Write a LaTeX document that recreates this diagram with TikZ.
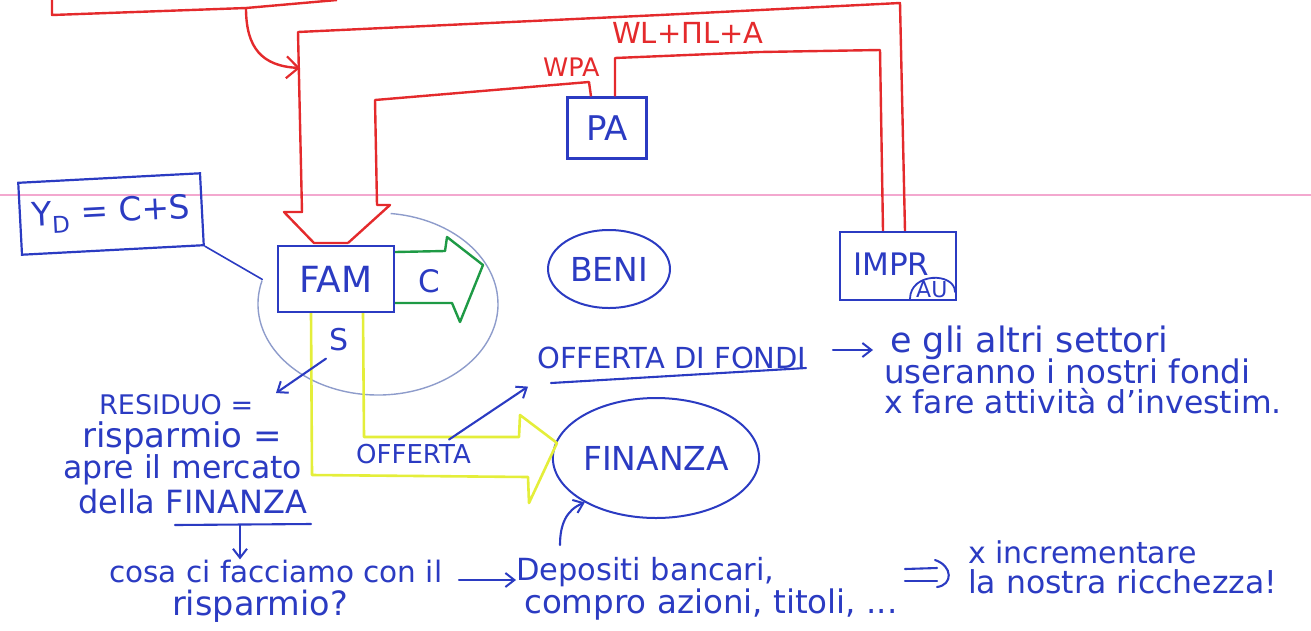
\documentclass[tikz,border=0pt]{standalone}
\usepackage{fontspec}
\setmainfont{DejaVu Sans}
\usetikzlibrary{arrows.meta,shapes.geometric,calc}
\definecolor{pen}{HTML}{2B3BC2}
\definecolor{marker}{HTML}{E42A2C}
\definecolor{grn}{HTML}{1E9A45}
\definecolor{yel}{HTML}{E4EE3A}
\definecolor{faint}{HTML}{8E9CCB}
\definecolor{ruling}{HTML}{F3A8CF}
\begin{document}
\begin{tikzpicture}[x=1pt,y=-1pt,
  hw/.style={text=pen, inner sep=0pt, anchor=base west, font=\fontsize{#1}{#1}\selectfont},
  box/.style={draw=pen, line width=2.2pt, inner sep=0pt, text=pen},
  ring/.style={ellipse, draw=pen, line width=2pt, inner sep=0pt, text=pen},
  redline/.style={draw=marker, line width=2.4pt, line join=round},
  penline/.style={draw=pen, line width=2.1pt, line cap=round},
  barb/.style={-{Straight Barb[length=9pt,width=14pt,line width=2pt]}}]
\useasboundingbox (0,0) rectangle (1311,630);

% ruled line of the notebook page
\draw[ruling, line width=1.8pt] (0,195) -- (1311,195);

% sectors
\node[box, minimum width=182pt, minimum height=72pt, rotate=3,
      font=\fontsize{33}{33}\selectfont] (yd) at (111,214) {Y\textsubscript{D} = C+S};
\node[box, minimum width=116pt, minimum height=66pt,
      font=\fontsize{36}{36}\selectfont] (fam) at (336,279) {FAM};
\node[box, minimum width=79pt, minimum height=61pt,
      font=\fontsize{34}{34}\selectfont] (pa) at (607,128) {PA};
\node[box, minimum width=116pt, minimum height=68pt] (impr) at (898,266) {};
\node[hw=31] (imprtxt) at (853,275) {IMPR};
\node[hw=22] (au) at (916,297) {AU};
\draw[penline, line width=1.8pt] (910,299) .. controls (910,272) and (955,272) .. (955,292);

% markets
\node[ellipse, minimum width=240pt, minimum height=182pt, inner sep=0pt] (circ) at (378,304) {};
\draw[faint, line width=1.4pt] (circ.center) ++(195:120 and 91)
  arc[start angle=195, end angle=-84, x radius=120, y radius=91];
\node[ring, minimum width=122pt, minimum height=78pt,
      font=\fontsize{33}{33}\selectfont] (beni) at (609,269) {BENI};
\node[ring, minimum width=197pt, minimum height=120pt,
      font=\fontsize{33}{33}\selectfont] (fin) at (656,458) {FINANZA};

% income flows (red)
\coordinate (topin) at (52,0);
\coordinate (topout) at (337,0);
\draw[redline] (topin) -- (52,15) -- (246,8) -- (topout);
\draw[redline, -{Straight Barb[length=12pt,width=22pt,line width=2.2pt]}]
  (246,8) .. controls (246,48) and (262,66) .. (300,68);
% outer loop IMPR -> FAM (left side of the hollow arrow)
\draw[redline] (impr.north -| 905,0) -- (900,3) -- (660,15) -- (298,32) -- (302,212)
  -- (284,212) -- (314,243) -- (348,243);
% PA -> FAM (right side of the hollow arrow)
\draw[redline] (pa.north -| 591,0) -- (589,82) -- (375,100) -- (377,205) -- (390,205) -- (348,243);
% PA -> IMPR
\draw[redline] (pa.north -| 615,0) -- (615,58) -- (760,52) -- (880,50) -- (impr.north -| 883,0);
\node[text=marker, inner sep=0pt, anchor=base west, font=\fontsize{25.5}{25.5}\selectfont]
  (wpa) at (543,76) {WPA};
\node[text=marker, inner sep=0pt, anchor=base west, font=\fontsize{29}{29}\selectfont]
  (wl) at (612,43) {WL+ΠL+A};

% consumption (green hollow arrow)
\draw[grn, line width=2.4pt, line join=round] (fam.east |- 0,252) -- (445,251) -- (447,237)
  -- (483,265) -- (460,322) -- (452,303) -- (fam.east |- 0,303);
\node[text=pen, inner sep=0pt, anchor=base west, font=\fontsize{31}{31}\selectfont]
  (cons) at (418,292) {C};

% saving (yellow hollow arrow)
\draw[yel, line width=2.6pt, line join=round] (fam.south -| 311,0) -- (312,475) -- (528,477)
  -- (529,503) -- (557,443) -- (520,415) -- (519,437) -- (364,437) -- (fam.south -| 363,0);
\node[hw=30] (sav) at (329,350) {S};
\node[hw=26] (offerta) at (356,463) {OFFERTA};

% Y_D is spent on the household circle
\draw[penline, line width=1.6pt] (yd.south east) -- (circ.168);

% supply of funds
\node[hw=29] (fondi) at (537,368) {OFFERTA DI FONDI};
\draw[penline] (551,383) -- (806,368);
\draw[penline, barb] ($(offerta.north east)+(-22,-4)$) -- ($(fondi.south west)+(-9,18)$);
\node[hw=35] (alt1) at (890,352) {e gli altri settori};
\node[hw=32.5] (alt2) at (884,383) {useranno i nostri fondi};
\node[hw=31.5] (alt3) at (884,413) {x fare attività d'investim.};
\coordinate (fondiout) at (833,350);
\coordinate (fondiin) at (873,350);
\draw[penline, barb] (fondiout) -- (fondiin);

% left note
\draw[penline, barb] ($(sav.south west)+(-3,8)$) -- (276,393);
\node[hw=27] (res1) at (99,414) {RESIDUO =};
\node[hw=34] (res2) at (82,447) {risparmio =};
\node[hw=31.5] (res3) at (63,478) {apre il mercato};
\node[hw=32] (res4) at (78,513) {della FINANZA};
\draw[penline] (175,525) -- (311,524);
\node[hw=29.5] (q1) at (109,582) {cosa ci facciamo con il};
\node[hw=33.5] (q2) at (172,615) {risparmio?};
\draw[penline, barb] (240,525) -- (q1.north -| 240,0);

% answers
\node[hw=30.5] (dep1) at (516,580) {Depositi bancari,};
\node[hw=32.5] (dep2) at (524,613) {compro azioni, titoli, ...};
\draw[penline, barb] (459,580) -- (dep1.west |- 0,580);
\draw[penline, barb] (560,545) .. controls (560,525) and (566,510) .. (fin.212);
% "therefore" sign: two bars closed by a bracket
\coordinate (impl) at (905,575);
\draw[penline] (impl) ++(0,-6) -- ++(32,-1);
\draw[penline] (impl) ++(0,6) -- ++(32,0);
\draw[penline] (impl) ++(30,-15) .. controls ++(18,6) and ++(16,-2) .. ++(2,27);
\node[hw=30] (ric1) at (968,563) {x incrementare};
\node[hw=31.5] (ric2) at (968,593) {la nostra ricchezza!};
\end{tikzpicture}
\end{document}
